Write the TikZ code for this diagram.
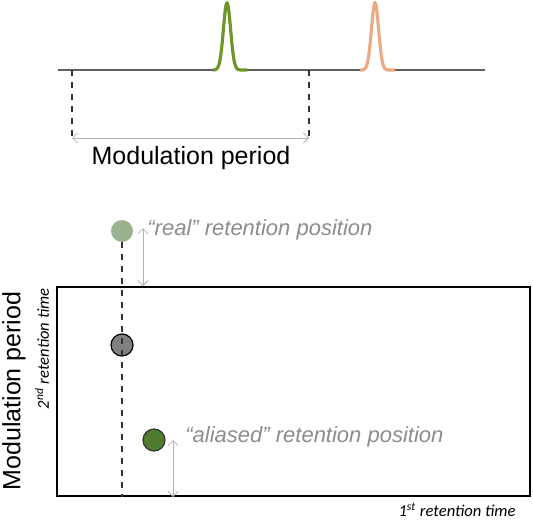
\documentclass[tikz,border=0pt]{standalone}
\usepackage{fontspec}
\setmainfont{Liberation Sans}
\newfontfamily\axisfont{Carlito}
\usetikzlibrary{arrows.meta, positioning}

\definecolor{peakgreen}{RGB}{112,150,40}
\definecolor{peakorange}{RGB}{236,170,130}
\definecolor{basegray}{RGB}{95,95,95}
\definecolor{realgreen}{RGB}{155,178,142}
\definecolor{aliasgreen}{RGB}{80,125,45}
\definecolor{labelgray}{RGB}{140,140,140}

\begin{document}
\begin{tikzpicture}[
    x=0.5pt, y=-0.5pt,
    base/.style={line width=1.3pt, basegray},
    peak/.style={line width=1.6pt},
    guide/.style={dashed, line width=0.6pt, black!80},
    dim/.style={{Straight Barb[length=2.5pt]}-{Straight Barb[length=2.5pt]}, line width=0.4pt, black!30},
    spot/.style={circle, minimum size=11pt, inner sep=0pt},
    note/.style={font=\itshape\fontsize{11}{13}\selectfont, text=labelgray, anchor=west, inner sep=0pt},
    big/.style={font=\fontsize{12.5}{14}\selectfont, inner sep=0pt},
    axis/.style={font=\axisfont\itshape\fontsize{8.3}{9}\selectfont, inner sep=0pt}
]
\useasboundingbox (0,0) rectangle (533,519);

% signal trace
\draw[base] (58,70) -- (213,70);
\draw[base] (247,70) -- (360,70);
\draw[base] (395,70) -- (485,70);
\draw[peak, peakgreen] plot[domain=213:247, samples=80, smooth] (\x, {70-67*exp(-((\x-227)^2)/(2*3.6^2))});
\draw[peak, peakorange] plot[domain=360:395, samples=80, smooth] (\x, {70-67*exp(-((\x-375)^2)/(2*3.6^2))});

% modulation period
\coordinate (pa) at (72,70);
\coordinate (pb) at (309,70);
\coordinate (qa) at (72,138);
\coordinate (qb) at (309,138);
\draw[guide] (pa) -- (qa);
\draw[guide] (pb) -- (qb);
\draw[dim] (qa) -- (qb);
\node[big] (period) at (191,158) {Modulation period};

% 2D plane
\node[draw, line width=1pt, minimum width=236.5pt, minimum height=104.5pt, inner sep=0pt] (frame) at (293.5,391.5) {};
\node[big, rotate=90] (yperiod) at (14,391) {Modulation period};
\node[axis, rotate=90] (ytime) at (42,349) {2\textsuperscript{nd} retention time};
\node[axis] (xtime) at (457,510) {1\textsuperscript{st} retention time};

\node[spot, fill=realgreen] (real) at (122,231) {};
\node[spot, fill=black!50, draw=black, line width=0.6pt] (mod) at (122,345) {};
\node[spot, fill=aliasgreen, draw=black!80, line width=0.6pt] (alias) at (154,440) {};
\draw[guide] (real.south) -- (real.south |- frame.south);

\coordinate (rtop) at (143,228);
\draw[dim] (rtop) -- (rtop |- frame.north);
\coordinate (atop) at (173,440);
\draw[dim] (atop) -- (atop |- frame.south);

\node[note] (realtxt) at (147,230) {“real” retention position};
\node[note] (aliastxt) at (185,437) {“aliased” retention position};
\end{tikzpicture}
\end{document}
